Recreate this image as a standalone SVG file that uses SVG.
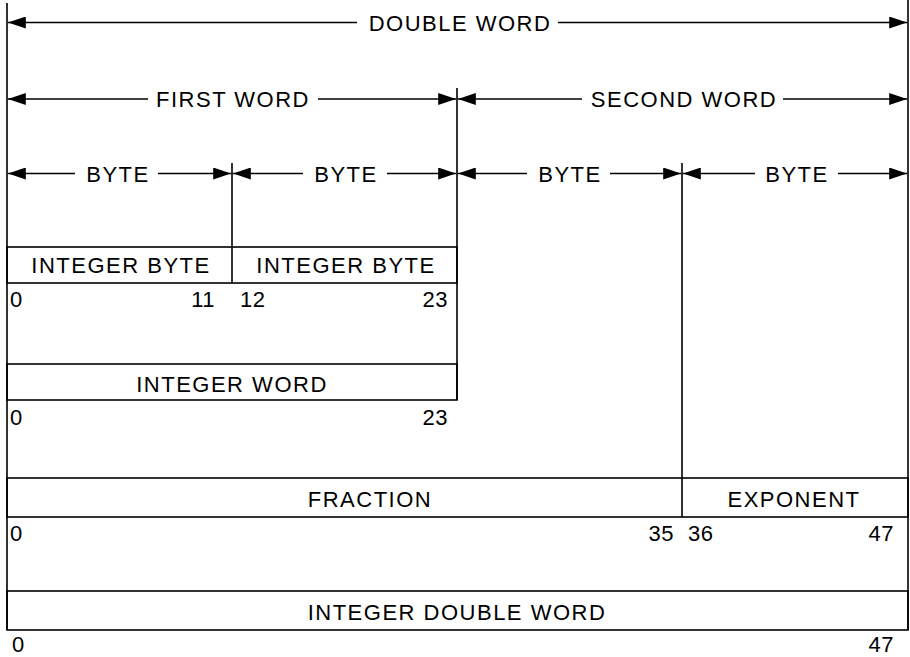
<svg xmlns="http://www.w3.org/2000/svg" width="910" height="657" viewBox="0 0 910 657">
<style>
.ln{stroke:#000;stroke-width:1.6;fill:none}
.ar{stroke:#000;stroke-width:1.6;fill:none;marker-end:url(#ah)}
.box{stroke:#000;stroke-width:1.6;fill:none}
text{font-family:"Liberation Sans",Arial,sans-serif;font-size:22px;fill:#000}
.lbl{text-anchor:middle;letter-spacing:1.5px}
.num{letter-spacing:0.5px}
.end{text-anchor:end}
</style>
<defs>
<marker id="ah" markerUnits="userSpaceOnUse" markerWidth="18" markerHeight="12" refX="18" refY="6" orient="auto">
<path d="M0,0 L18,6 L0,12 z" fill="#000"/>
</marker>
</defs>
<rect width="910" height="657" fill="#fff"/>
<g id="frame">
<line class="ln" x1="7" y1="3" x2="7" y2="630"/>
<line class="ln" x1="908" y1="0" x2="908" y2="630"/>
<line class="ln" x1="457" y1="88" x2="457" y2="400"/>
<line class="ln" x1="232" y1="163" x2="232" y2="283"/>
<line class="ln" x1="682" y1="163" x2="682" y2="517"/>
</g>
<g id="connectors">
<line class="ar" x1="357" y1="22.5" x2="7.8" y2="22.5"/>
<line class="ar" x1="558" y1="22.5" x2="907.2" y2="22.5"/>
<line class="ar" x1="148" y1="99" x2="7.8" y2="99"/>
<line class="ar" x1="318" y1="99" x2="456.2" y2="99"/>
<line class="ar" x1="582" y1="99" x2="457.8" y2="99"/>
<line class="ar" x1="783" y1="99" x2="907.2" y2="99"/>
<line class="ar" x1="75" y1="173.5" x2="7.8" y2="173.5"/>
<line class="ar" x1="158" y1="173.5" x2="231.2" y2="173.5"/>
<line class="ar" x1="303" y1="173.5" x2="232.8" y2="173.5"/>
<line class="ar" x1="387" y1="173.5" x2="456.2" y2="173.5"/>
<line class="ar" x1="527" y1="173.5" x2="457.8" y2="173.5"/>
<line class="ar" x1="610" y1="173.5" x2="681.2" y2="173.5"/>
<line class="ar" x1="755" y1="173.5" x2="682.8" y2="173.5"/>
<line class="ar" x1="838" y1="173.5" x2="907.2" y2="173.5"/>
</g>
<g id="span-labels">
<text class="lbl" x="460" y="30.5">DOUBLE WORD</text>
<text class="lbl" x="233" y="107">FIRST WORD</text>
<text class="lbl" x="684" y="107">SECOND WORD</text>
<text class="lbl" x="118" y="182">BYTE</text>
<text class="lbl" x="346" y="182">BYTE</text>
<text class="lbl" x="570" y="182">BYTE</text>
<text class="lbl" x="797" y="182">BYTE</text>
</g>
<g id="integer-byte">
<rect class="box" x="7" y="247" width="450" height="36"/>
<text class="lbl" x="121" y="273">INTEGER BYTE</text>
<text class="lbl" x="346" y="273">INTEGER BYTE</text>
<text class="num" x="10" y="307">0</text>
<text class="num end" x="215" y="307">11</text>
<text class="num" x="240" y="307">12</text>
<text class="num end" x="448" y="307">23</text>
</g>
<g id="integer-word">
<rect class="box" x="7" y="364" width="450" height="36"/>
<text class="lbl" x="232" y="392">INTEGER WORD</text>
<text class="num" x="10" y="425">0</text>
<text class="num end" x="448" y="425">23</text>
</g>
<g id="floating-point">
<rect class="box" x="7" y="478" width="901" height="39"/>
<text class="lbl" x="370" y="507">FRACTION</text>
<text class="lbl" x="794" y="507">EXPONENT</text>
<text class="num" x="10" y="541">0</text>
<text class="num end" x="674" y="541">35</text>
<text class="num" x="688" y="541">36</text>
<text class="num end" x="894" y="541">47</text>
</g>
<g id="integer-double-word">
<rect class="box" x="7" y="591" width="901" height="39"/>
<text class="lbl" x="457" y="620">INTEGER DOUBLE WORD</text>
<text class="num" x="12" y="652">0</text>
<text class="num end" x="894" y="652">47</text>
</g>
</svg>
